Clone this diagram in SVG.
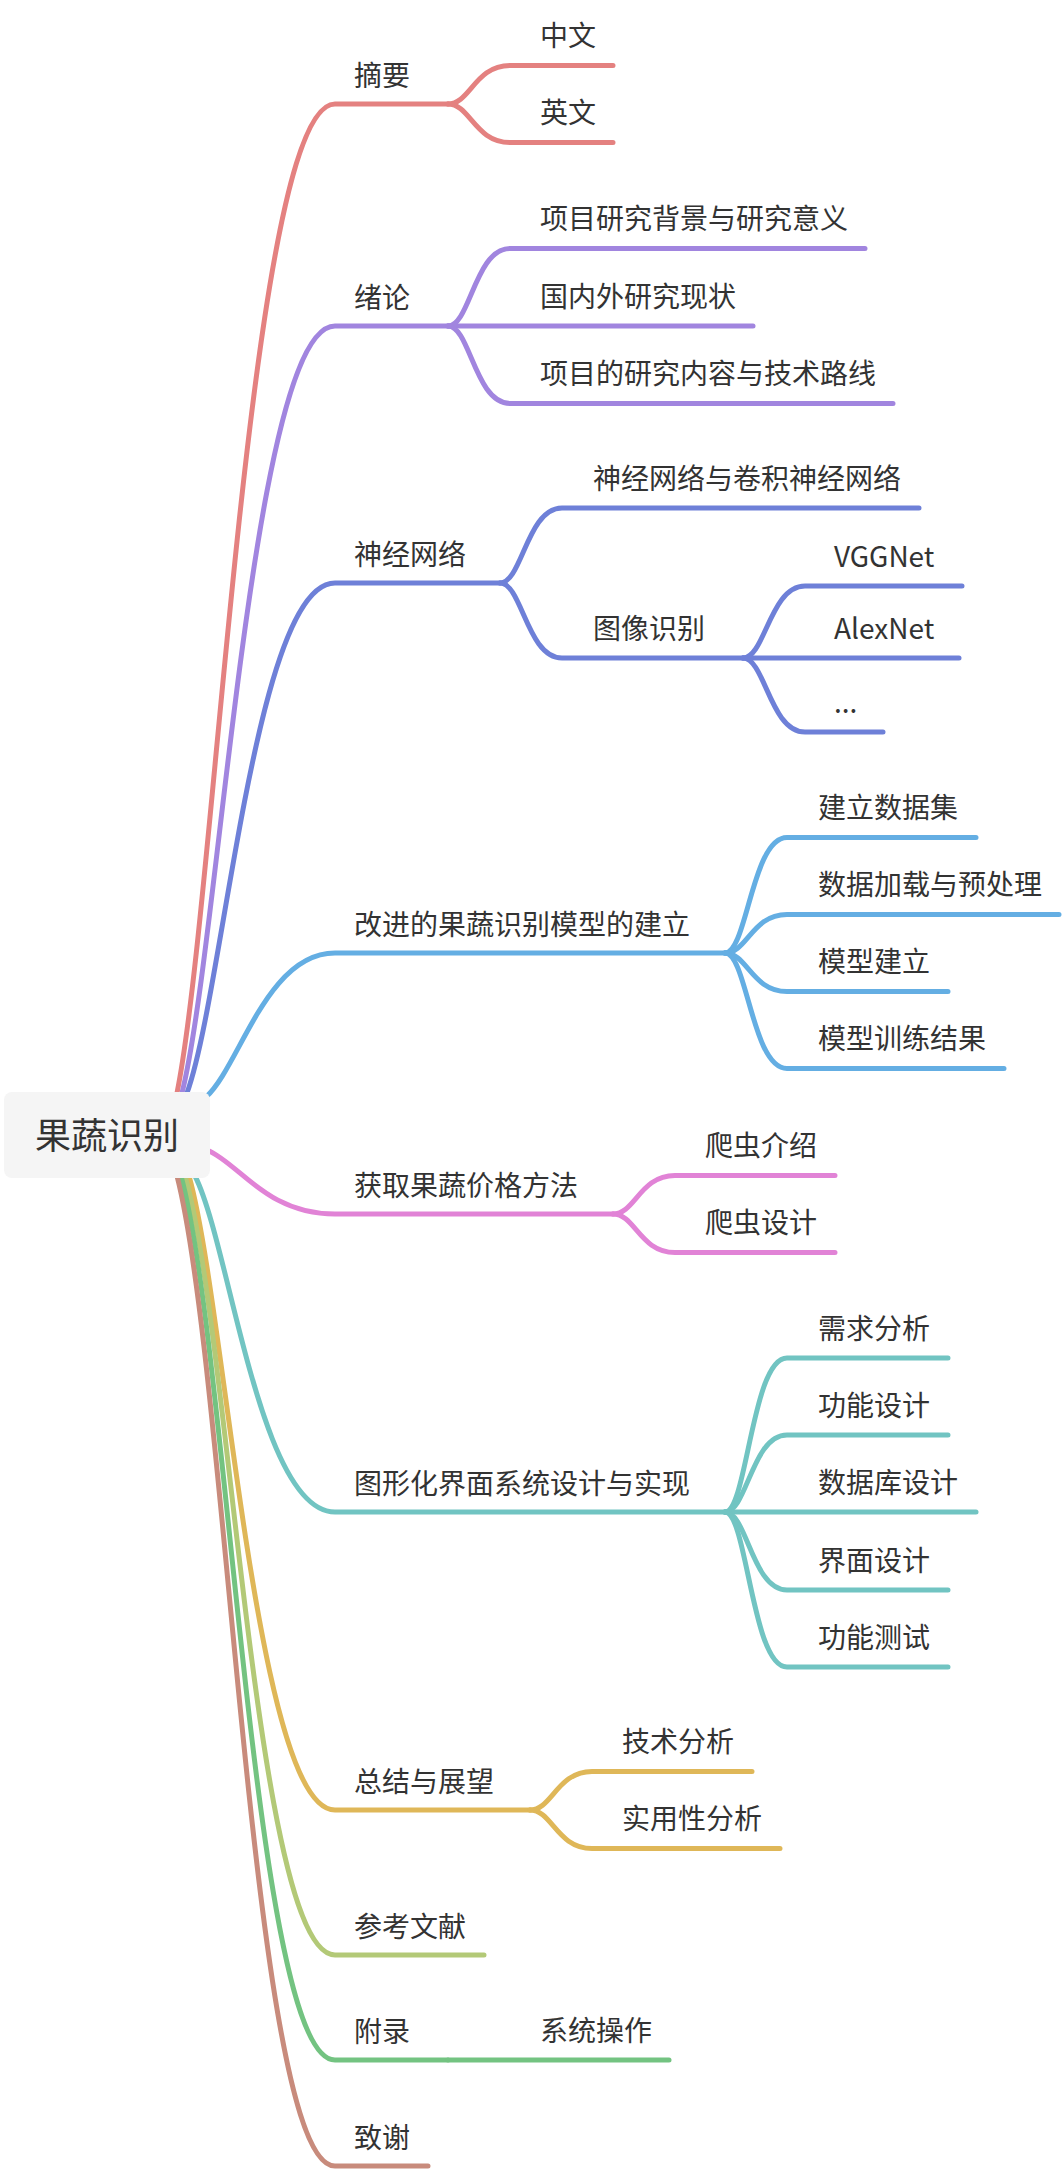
<svg xmlns="http://www.w3.org/2000/svg" width="1062" height="2174" viewBox="0 0 1062 2174">
<style>
  .t { font-family: "Noto Sans CJK SC", "Noto Sans", sans-serif; font-size: 28px; fill: #333333; }
  .root { font-family: "Noto Sans CJK SC", "Noto Sans", sans-serif; font-size: 36px; fill: #333333; text-anchor: middle; }
  .ln { fill: none; stroke-width: 5; stroke-linecap: round; stroke-linejoin: round; }
  .c1 { stroke: #E48180; }
  .c2 { stroke: #A185DF; }
  .c3 { stroke: #6E80D8; }
  .c4 { stroke: #64AEE3; }
  .c5 { stroke: #E183D6; }
  .c6 { stroke: #71C4C2; }
  .c7 { stroke: #DFB758; }
  .c8 { stroke: #B3C977; }
  .c9 { stroke: #73C381; }
  .c10 { stroke: #C88B7C; }
</style>
<rect width="1062" height="2174" fill="#ffffff"/>
<g id="connectors">
  <!-- level 1 -->
  <path class="ln c1" d="M177 1093 C216.5 895 249.7 104 335 104 L448 104"/>
  <path class="ln c2" d="M182 1093 C220 940 252.4 326 335 326 L448 326"/>
  <path class="ln c3" d="M187 1093 C224 991 255 583 335 583 L500 583"/>
  <path class="ln c4" d="M206 1097 C239.5 1067 266.4 953 335 953 L725 953"/>
  <path class="ln c5" d="M207 1150 C239 1163 266 1214 335 1214 L613 1214"/>
  <path class="ln c6" d="M195 1176 C230 1245 259.4 1512 335 1512 L725 1512"/>
  <path class="ln c7" d="M189 1176 C225.5 1304 256.2 1810 335 1810 L530 1810"/>
  <path class="ln c8" d="M185 1176 C230 1333 256 1955 335 1955 L484 1955"/>
  <path class="ln c9" d="M181 1176 C229 1354 254 2060 335 2060 L448 2060"/>
  <path class="ln c10" d="M177 1176 C228 1376 252 2166 335 2166 L428 2166"/>
  <!-- 摘要 children -->
  <path class="ln c1" d="M448 104 C470 104 475 65.5 510 65.5 L613 65.5"/>
  <path class="ln c1" d="M448 104 C470 104 475 142.5 510 142.5 L613 142.5"/>
  <!-- 绪论 children -->
  <path class="ln c2" d="M448 326 C470 326 475 248.5 510 248.5 L865 248.5"/>
  <path class="ln c2" d="M448 326 L753 326"/>
  <path class="ln c2" d="M448 326 C470 326 475 403.5 510 403.5 L893 403.5"/>
  <!-- 神经网络 children -->
  <path class="ln c3" d="M500 583 C522 583 527 508 562 508 L919 508"/>
  <path class="ln c3" d="M500 583 C522 583 527 658 562 658 L743 658"/>
  <!-- 图像识别 children -->
  <path class="ln c3" d="M743 658 C765 658 770 586 805 586 L962 586"/>
  <path class="ln c3" d="M743 658 L959 658"/>
  <path class="ln c3" d="M743 658 C765 658 770 732 805 732 L883 732"/>
  <!-- 改进 children -->
  <path class="ln c4" d="M725 953 C747 953 752 837.5 787 837.5 L976 837.5"/>
  <path class="ln c4" d="M725 953 C747 953 752 914.5 787 914.5 L1059 914.5"/>
  <path class="ln c4" d="M725 953 C747 953 752 991.5 787 991.5 L948 991.5"/>
  <path class="ln c4" d="M725 953 C747 953 752 1068.5 787 1068.5 L1004 1068.5"/>
  <!-- 获取 children -->
  <path class="ln c5" d="M613 1214 C635 1214 640 1175.5 675 1175.5 L835 1175.5"/>
  <path class="ln c5" d="M613 1214 C635 1214 640 1252.5 675 1252.5 L835 1252.5"/>
  <!-- 图形化 children -->
  <path class="ln c6" d="M725 1512 C747 1512 752 1358 787 1358 L948 1358"/>
  <path class="ln c6" d="M725 1512 C747 1512 752 1435 787 1435 L948 1435"/>
  <path class="ln c6" d="M725 1512 L976 1512"/>
  <path class="ln c6" d="M725 1512 C747 1512 752 1590 787 1590 L948 1590"/>
  <path class="ln c6" d="M725 1512 C747 1512 752 1667 787 1667 L948 1667"/>
  <!-- 总结 children -->
  <path class="ln c7" d="M530 1810 C552 1810 557 1771.5 592 1771.5 L752 1771.5"/>
  <path class="ln c7" d="M530 1810 C552 1810 557 1848.5 592 1848.5 L780 1848.5"/>
  <!-- 附录 child -->
  <path class="ln c9" d="M448 2060 L669 2060"/>
</g>
<g id="root">
  <rect x="4" y="1092" width="206" height="86" rx="8" ry="8" fill="#f5f5f5"/>
  <text class="root" x="107" y="1149">果蔬识别</text>
</g>
<g id="n-zhaiyao"><text class="t" x="354" y="85.5">摘要</text></g>
<g id="n-zhongwen"><text class="t" x="540" y="46">中文</text></g>
<g id="n-yingwen"><text class="t" x="540" y="123">英文</text></g>
<g id="n-xulun"><text class="t" x="354" y="307.5">绪论</text></g>
<g id="n-beijing"><text class="t" x="540" y="229">项目研究背景与研究意义</text></g>
<g id="n-xianzhuang"><text class="t" x="540" y="306.5">国内外研究现状</text></g>
<g id="n-neirong"><text class="t" x="540" y="384">项目的研究内容与技术路线</text></g>
<g id="n-shenjing"><text class="t" x="354" y="564.5">神经网络</text></g>
<g id="n-juanji"><text class="t" x="593" y="489">神经网络与卷积神经网络</text></g>
<g id="n-tuxiang"><text class="t" x="593" y="639">图像识别</text></g>
<g id="n-vgg"><text class="t" x="834" y="566.5">VGGNet</text></g>
<g id="n-alex"><text class="t" x="834" y="638.5">AlexNet</text></g>
<g id="n-more"><text class="t" x="834" y="712.5">...</text></g>
<g id="n-gaijin"><text class="t" x="354" y="934.5">改进的果蔬识别模型的建立</text></g>
<g id="n-shujuji"><text class="t" x="818" y="818">建立数据集</text></g>
<g id="n-jiazai"><text class="t" x="818" y="895">数据加载与预处理</text></g>
<g id="n-moxing"><text class="t" x="818" y="972">模型建立</text></g>
<g id="n-xunlian"><text class="t" x="818" y="1049">模型训练结果</text></g>
<g id="n-jiage"><text class="t" x="354" y="1195.5">获取果蔬价格方法</text></g>
<g id="n-pachong1"><text class="t" x="705" y="1156">爬虫介绍</text></g>
<g id="n-pachong2"><text class="t" x="705" y="1233">爬虫设计</text></g>
<g id="n-jiemian"><text class="t" x="354" y="1493.5">图形化界面系统设计与实现</text></g>
<g id="n-xuqiu"><text class="t" x="818" y="1338.5">需求分析</text></g>
<g id="n-gongneng"><text class="t" x="818" y="1415.5">功能设计</text></g>
<g id="n-shujuku"><text class="t" x="818" y="1492.5">数据库设计</text></g>
<g id="n-jiemiansj"><text class="t" x="818" y="1570.5">界面设计</text></g>
<g id="n-ceshi"><text class="t" x="818" y="1647.5">功能测试</text></g>
<g id="n-zongjie"><text class="t" x="354" y="1791.5">总结与展望</text></g>
<g id="n-jishu"><text class="t" x="622" y="1752">技术分析</text></g>
<g id="n-shiyong"><text class="t" x="622" y="1829">实用性分析</text></g>
<g id="n-cankao"><text class="t" x="354" y="1936.5">参考文献</text></g>
<g id="n-fulu"><text class="t" x="354" y="2041.5">附录</text></g>
<g id="n-caozuo"><text class="t" x="540" y="2041">系统操作</text></g>
<g id="n-zhixie"><text class="t" x="354" y="2147.5">致谢</text></g>
</svg>
